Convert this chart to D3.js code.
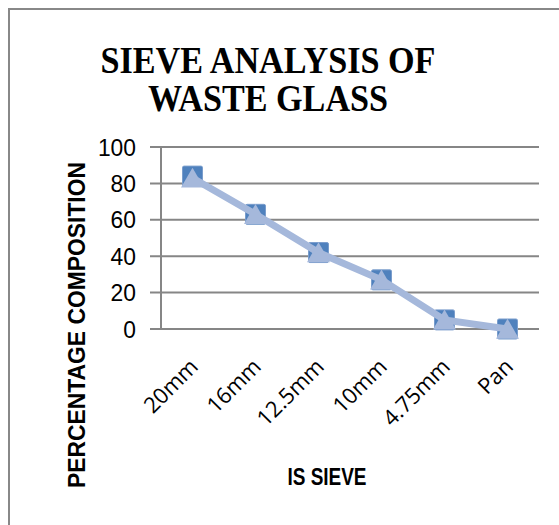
<!DOCTYPE html>
<html>
<head>
<title>Sieve analysis of waste glass</title>
<script src="https://d3js.org/d3.v7.min.js"></script>
<style>
  body { margin: 0; background: #fff; }
</style>
</head>
<body>
<div class="chart"></div>
<script>
// sieve sizes and percentage composition
const sieves = ["20mm", "16mm", "12.5mm", "10mm", "4.75mm", "Pan"];
const passing = [84, 63, 42, 27, 5, 0];
const passing2 = [83, 63, 42, 27, 5, 0];
const yTicks = [0, 20, 40, 60, 80, 100];

const width = 559, height = 525;
const svg = d3.select(".chart").append("svg")
  .attr("width", width).attr("height", height);

// chart frame
svg.append("rect")
  .attr("x", 9).attr("y", 9)
  .attr("width", 600).attr("height", 600)
  .attr("fill", "#fff").attr("stroke", "#888").attr("stroke-width", 2);

const x = d3.scalePoint().domain(sieves).range([161, 539]).padding(0.5);
const y = d3.scaleLinear().domain([0, 100]).range([329, 147]);

// gridlines
svg.selectAll("line.grid")
  .data(yTicks)
  .enter().append("line")
  .attr("x1", 150).attr("x2", 539)
  .attr("y1", d => y(d)).attr("y2", d => y(d))
  .attr("stroke", "#868686").attr("stroke-width", 2);

svg.append("line")
  .attr("x1", 161).attr("x2", 161)
  .attr("y1", y(100)).attr("y2", y(0))
  .attr("stroke", "#868686").attr("stroke-width", 2);

svg.selectAll("text.ytick")
  .data(yTicks)
  .enter().append("text")
  .attr("x", 136).attr("y", d => y(d))
  .attr("dy", "0.36em")
  .attr("text-anchor", "end")
  .attr("font-family", "Liberation Sans, Arial, sans-serif")
  .attr("font-size", "24px")
  .attr("textLength", d => String(d).length * 12.7)
  .attr("lengthAdjust", "spacingAndGlyphs")
  .text(d => d);

svg.selectAll("text.xtick")
  .data(sieves)
  .enter().append("text")
  .attr("transform", d => "translate(" + (x(d) + 7) + ",368) rotate(-45)")
  .attr("text-anchor", "end")
  .attr("font-family", "Open Sans, sans-serif")
  .attr("font-size", "22px")
  .text(d => d);

// series 1: squares
svg.selectAll("rect.sq")
  .data(passing)
  .enter().append("rect")
  .attr("x", (d, i) => x(sieves[i]) - 10)
  .attr("y", d => y(d) - 10)
  .attr("width", 20).attr("height", 20)
  .attr("rx", 1.5)
  .attr("fill", "#4F81BD").attr("stroke", "#7a9dcc").attr("stroke-width", 1);

// series 2: line with triangles
const line = d3.line()
  .x((d, i) => x(sieves[i]))
  .y(d => y(d));

svg.append("path")
  .datum(passing2)
  .attr("d", line)
  .attr("fill", "none")
  .attr("stroke", "#A5B8DB").attr("stroke-width", 7);

svg.selectAll("path.tri")
  .data(passing2)
  .enter().append("path")
  .attr("d", d3.symbol().type(d3.symbolTriangle).size(229))
  .attr("transform", (d, i) => "translate(" + x(sieves[i]) + "," + (y(d) + 3) + ")")
  .attr("fill", "#A5B8DB");

// titles
const titleLines = ["SIEVE ANALYSIS OF", "WASTE GLASS"];
const titleWidths = [335, 240];
svg.append("text")
  .attr("text-anchor", "middle")
  .attr("font-family", "Liberation Serif, Times New Roman, serif")
  .attr("font-weight", "bold")
  .attr("font-size", "37px")
  .selectAll("tspan")
  .data(titleLines)
  .enter().append("tspan")
  .attr("x", 268)
  .attr("y", (d, i) => 73 + i * 38)
  .attr("textLength", (d, i) => titleWidths[i])
  .attr("lengthAdjust", "spacingAndGlyphs")
  .text(d => d);

svg.append("text")
  .attr("transform", "translate(85,325) rotate(-90)")
  .attr("text-anchor", "middle")
  .attr("font-family", "Liberation Sans Narrow, Liberation Sans, sans-serif")
  .attr("font-weight", "bold")
  .attr("font-size", "23px")
  .attr("textLength", 326)
  .attr("lengthAdjust", "spacingAndGlyphs")
  .text("PERCENTAGE COMPOSITION");

svg.append("text")
  .attr("x", 327).attr("y", 485)
  .attr("text-anchor", "middle")
  .attr("font-family", "Liberation Sans Narrow, Liberation Sans, sans-serif")
  .attr("font-weight", "bold")
  .attr("font-size", "24px")
  .attr("textLength", 79)
  .attr("lengthAdjust", "spacingAndGlyphs")
  .text("IS SIEVE");
</script>
</body>
</html>
